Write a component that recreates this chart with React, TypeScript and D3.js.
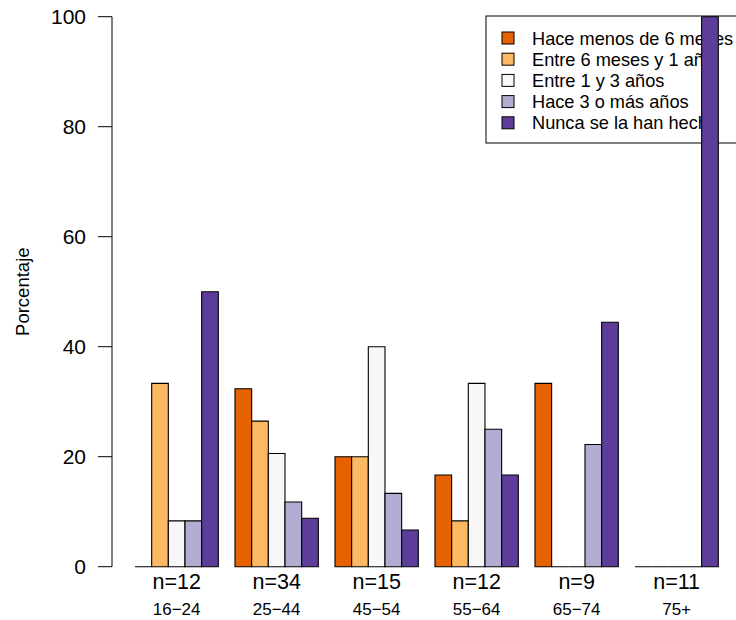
import React from "react";
import * as d3 from "d3";

const ageGroups = ["16−24", "25−44", "45−54", "55−64", "65−74", "75+"];
const sampleSizes = ["n=12", "n=34", "n=15", "n=12", "n=9", "n=11"];
const seriesNames = [
  "Hace menos de 6 meses",
  "Entre 6 meses y 1 año",
  "Entre 1 y 3 años",
  "Hace 3 o más años",
  "Nunca se la han hecho",
];
const seriesColors = ["#E66101", "#FDB863", "#F7F7F7", "#B2ABD2", "#5E3C99"];
// percentages per series, one value per age group
const menos6meses = [0, 32.35, 20, 16.67, 33.33, 0];
const entre6y1 = [33.33, 26.47, 20, 8.33, 0, 0];
const entre1y3 = [8.33, 20.59, 40, 33.33, 0, 0];
const hace3omas = [8.33, 11.76, 13.33, 25, 22.22, 0];
const nunca = [50, 8.82, 6.67, 16.67, 44.44, 100];
const seriesValues = [menos6meses, entre6y1, entre1y3, hace3omas, nunca];
const yTicks = [0, 20, 40, 60, 80, 100];

export default function App() {
  const W = 736;
  const H = 620;
  const y = d3.scaleLinear().domain([0, 100]).range([566.7, 16.7]);
  // bar units: group g, bar i => left edge at unit 6g+1+i
  const unit = d3.scaleLinear().domain([1, 36]).range([135, 718.3]);
  const font = "Liberation Sans, Arial, Helvetica, sans-serif";
  const nSeries = seriesNames.length;

  const bars: { x0: number; x1: number; v: number; c: string; key: string }[] = [];
  ageGroups.forEach((_, g) => {
    seriesValues.forEach((vals, i) => {
      const u = 6 * g + 1 + i;
      bars.push({ x0: unit(u), x1: unit(u + 1), v: vals[g], c: seriesColors[i], key: `${g}-${i}` });
    });
  });

  const legendX = 486;
  const legendY = 16;
  const rowY = (i: number) => 38 + i * 21.2;

  return (
    <svg width={W} height={H} style={{ position: "absolute", left: 0, top: 0, background: "#fff" }} fontFamily={font}>
      <rect x={0} y={0} width={W} height={H} fill="#fff" />
      {/* y axis */}
      <line x1={112} x2={112} y1={y(0)} y2={y(100)} stroke="#000" strokeWidth={1} />
      {yTicks.map((t) => (
        <g key={t}>
          <line x1={98} x2={112} y1={y(t)} y2={y(t)} stroke="#000" strokeWidth={1} />
          <text x={86} y={y(t)} dy="0.36em" textAnchor="end" fontSize={21}>
            {t}
          </text>
        </g>
      ))}
      <text transform={`translate(29,${y(50)}) rotate(-90)`} textAnchor="middle" fontSize={18.5}>
        Porcentaje
      </text>
      {/* legend */}
      <rect x={legendX} y={legendY} width={300} height={127} fill="#fff" stroke="#000" strokeWidth={1} />
      {seriesNames.map((s, i) => (
        <g key={s}>
          <rect x={502} y={rowY(i) - 6} width={12} height={12} fill={seriesColors[i]} stroke="#000" strokeWidth={1} />
          <text x={532} y={rowY(i)} dy="0.36em" fontSize={18.2}>
            {s}
          </text>
        </g>
      ))}
      {/* bars */}
      {bars.map((b) => (
        <path
          key={b.key}
          d={`M${b.x0},${y(0)}H${b.x1}V${y(b.v)}H${b.x0}Z`}
          fill={b.c}
          stroke="#000"
          strokeWidth={1.1}
        />
      ))}
      {/* group labels */}
      {ageGroups.map((a, g) => {
        const cx = unit(6 * g + 1 + nSeries / 2);
        return (
          <g key={a}>
            <text x={cx} y={588.5} textAnchor="middle" fontSize={21.5}>
              {sampleSizes[g]}
            </text>
            <text x={cx} y={615} textAnchor="middle" fontSize={17}>
              {a}
            </text>
          </g>
        );
      })}
    </svg>
  );
}
